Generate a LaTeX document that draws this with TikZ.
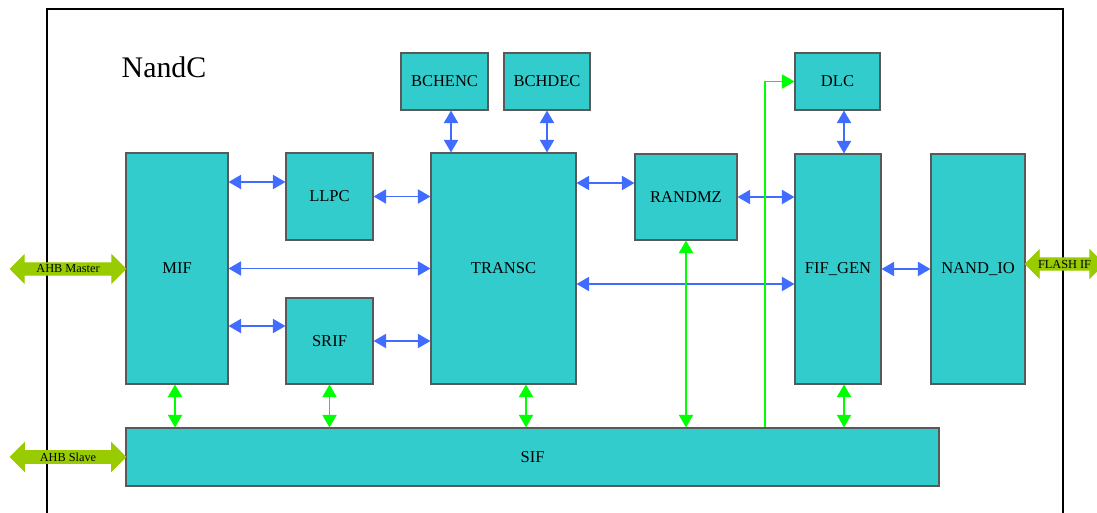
\documentclass[tikz,border=0pt]{standalone}
\usepackage{fontspec}
\setmainfont{Liberation Serif}
\usepackage{xcolor}
\usepackage{tikz}
\usetikzlibrary{shapes.arrows, arrows.meta, positioning, calc}

\definecolor{blockcol}{RGB}{51,204,204}
\definecolor{busblue}{RGB}{64,108,255}
\definecolor{busgreen}{RGB}{0,255,0}
\definecolor{portgreen}{RGB}{153,204,0}

\begin{document}
\begin{tikzpicture}[
  blk/.style  = {rectangle, draw=black!65, fill=blockcol, line width=0.6pt,
                 text centered, font=\fontsize{9.4}{11}\selectfont, inner sep=0pt},
  barr/.style = {{Triangle[length=2.5mm,width=2.8mm]}-{Triangle[length=2.5mm,width=2.8mm]},
                 line width=1pt, busblue},
  garr/.style = {{Triangle[length=2.5mm,width=2.8mm]}-{Triangle[length=2.5mm,width=2.8mm]},
                 line width=1pt, busgreen},
  garr1/.style = {-{Triangle[length=2.5mm,width=2.8mm]}, line width=1pt, busgreen},
  port/.style = {double arrow, fill=portgreen, draw=portgreen,
                 double arrow head extend=0.16cm, double arrow tip angle=90,
                 inner sep=1pt, font=\fontsize{7}{8}\selectfont, text centered},
]
  \clip (0,0) rectangle (21.94,-10.26);

  % NandC frame
  \draw[line width=1pt, black] (0.94,-10.6) -- (0.94,-0.18) -- (21.26,-0.18) -- (21.26,-10.6);
  \node[font=\fontsize{17}{20}\selectfont] (title) at (3.28,-1.34) {NandC};

  % blocks
  \node[blk, minimum width=2.04cm, minimum height=4.62cm] (mif)    at (3.54,-5.37)  {MIF};
  \node[blk, minimum width=1.74cm, minimum height=1.74cm] (llpc)   at (6.59,-3.93)  {LLPC};
  \node[blk, minimum width=1.74cm, minimum height=1.72cm] (srif)   at (6.59,-6.82)  {SRIF};
  \node[blk, minimum width=2.90cm, minimum height=4.62cm] (transc) at (10.07,-5.37) {TRANSC};
  \node[blk, minimum width=2.04cm, minimum height=1.72cm] (randmz) at (13.72,-3.94) {RANDMZ};
  \node[blk, minimum width=1.72cm, minimum height=4.60cm] (fifgen) at (16.76,-5.38) {FIF\_GEN};
  \node[blk, minimum width=1.88cm, minimum height=4.60cm] (nandio) at (19.56,-5.38) {NAND\_IO};
  \node[blk, minimum width=1.74cm, minimum height=1.14cm] (bchenc) at (8.89,-1.63)  {BCHENC};
  \node[blk, minimum width=1.72cm, minimum height=1.14cm] (bchdec) at (10.94,-1.63) {BCHDEC};
  \node[blk, minimum width=1.70cm, minimum height=1.14cm] (dlc)    at (16.75,-1.63) {DLC};
  \node[blk, minimum width=16.26cm, minimum height=1.16cm] (sif)   at (10.65,-9.14) {SIF};

  % external ports
  \node[port, minimum height=2.32cm] (ahbm)  at (1.36,-5.38)  {AHB Master};
  \node[port, minimum height=2.32cm] (ahbs)  at (1.36,-9.14)  {AHB Slave};
  \node[port, minimum height=1.58cm] (flash) at (21.29,-5.28) {FLASH IF};

  % blue buses
  \draw[barr] (mif.east |- 0,-3.64) -- (llpc.west |- 0,-3.64);
  \draw[barr] (mif.east) -- (transc.west);
  \draw[barr] (mif.east |- 0,-6.52) -- (srif.west |- 0,-6.52);
  \draw[barr] (llpc.east) -- (transc.west |- llpc.east);
  \draw[barr] (srif.east) -- (transc.west |- srif.east);
  \draw[barr] (transc.east |- 0,-3.66) -- (randmz.west |- 0,-3.66);
  \draw[barr] (randmz.east) -- (fifgen.west |- randmz.east);
  \draw[barr] (transc.east |- 0,-5.68) -- (fifgen.west |- 0,-5.68);
  \draw[barr] (fifgen.east) -- (nandio.west);
  \draw[barr] (bchenc.south -| 9.02,0) -- (transc.north -| 9.02,0);
  \draw[barr] (bchdec.south -| 10.94,0) -- (transc.north -| 10.94,0);
  \draw[barr] (dlc.south -| 16.88,0) -- (fifgen.north -| 16.88,0);

  % green buses to SIF
  \draw[garr] (mif.south -| 3.5,0) -- (sif.north -| 3.5,0);
  \draw[garr] (srif.south) -- (sif.north -| srif.south);
  \draw[garr] (transc.south -| 10.52,0) -- (sif.north -| 10.52,0);
  \draw[garr] (randmz.south) -- (sif.north -| randmz.south);
  \draw[garr] (fifgen.south -| 16.88,0) -- (sif.north -| 16.88,0);
  \draw[garr1] (sif.north -| 15.3,0) |- (dlc.west);
\end{tikzpicture}
\end{document}
